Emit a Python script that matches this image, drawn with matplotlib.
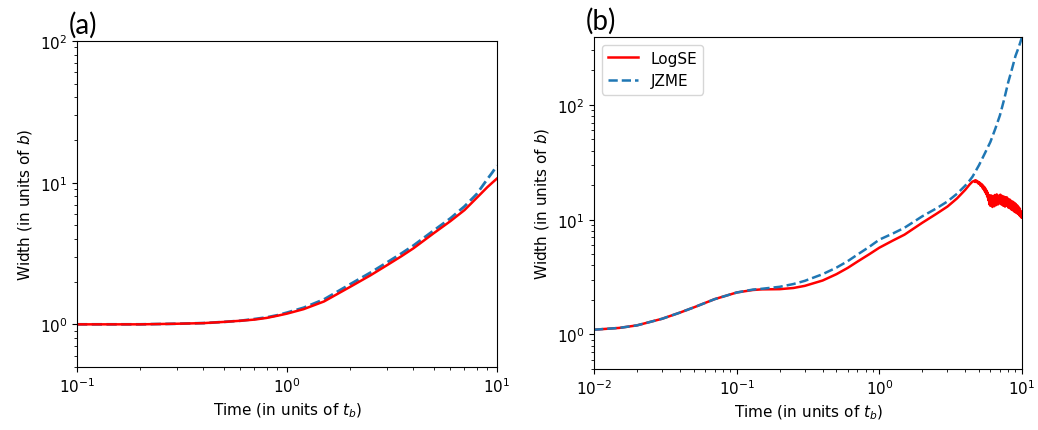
import matplotlib
matplotlib.use("Agg")
import matplotlib.pyplot as plt
import numpy as np

# panel (a): short-time comparison
t_a = [0.1, 0.2, 0.3, 0.4, 0.5, 0.6, 0.7, 0.8, 0.9, 1.0, 1.2, 1.5, 2.0, 2.5,
       3.0, 3.5, 4.0, 5.0, 6.0, 7.0, 8.0, 9.0, 9.5, 10.0]
logse_a = [1.00, 1.00, 1.01, 1.02, 1.04, 1.06, 1.08, 1.11, 1.15, 1.19, 1.28,
           1.45, 1.84, 2.22, 2.62, 3.02, 3.44, 4.4, 5.35, 6.4, 7.8, 9.3, 10.0, 10.7]
jzme_a = [1.00, 1.00, 1.01, 1.02, 1.04, 1.06, 1.09, 1.12, 1.16, 1.21, 1.31,
          1.50, 1.92, 2.32, 2.74, 3.16, 3.60, 4.6, 5.6, 6.8, 8.3, 10.6, 11.8, 13.2]

# panel (b): long-time comparison
t_b = [0.01, 0.015, 0.02, 0.03, 0.04, 0.05, 0.07, 0.1, 0.13, 0.15, 0.2, 0.25,
       0.3, 0.4, 0.5, 0.6, 0.7, 0.85, 1.0, 1.25, 1.5, 2.0, 2.5, 3.0, 3.5, 4.0,
       4.3, 4.5]
logse_b = [1.10, 1.14, 1.20, 1.37, 1.55, 1.72, 2.03, 2.32, 2.44, 2.47, 2.48,
           2.54, 2.65, 2.95, 3.35, 3.8, 4.3, 5.0, 5.7, 6.6, 7.4, 9.4, 11.2,
           13.0, 15.3, 18.2, 20.3, 21.5]
# noisy tail of LogSE after the peak (sampled every 0.05 from 4.6 to 10)
t_tail = np.linspace(4.6, 10.0, 109)
logse_tail = [21.6, 21.9, 21.3, 22.0, 21.4, 21.7, 20.8, 21.3, 20.5, 21.0,
              19.9, 20.6, 19.6, 20.2, 18.8, 19.7, 18.3, 19.2, 17.5, 18.6,
              16.8, 17.9, 15.9, 17.2, 14.8, 16.4, 13.6, 15.9, 13.2, 16.3,
              13.5, 15.4, 12.9, 16.1, 13.8, 15.7, 13.1, 16.4, 14.0, 15.9,
              13.4, 16.6, 14.2, 15.8, 13.6, 16.2, 14.4, 16.0, 13.9, 16.5,
              14.1, 15.6, 13.5, 16.1, 14.3, 15.5, 13.2, 15.9, 13.8, 15.3,
              13.0, 15.7, 13.6, 15.2, 13.3, 15.6, 13.9, 14.8, 12.8, 15.1,
              13.2, 14.6, 12.6, 14.9, 13.0, 14.2, 12.3, 14.5, 12.7, 13.9,
              12.1, 14.3, 12.4, 13.6, 11.8, 14.0, 12.2, 13.4, 11.6, 13.7,
              11.9, 13.1, 11.4, 13.3, 11.7, 12.8, 11.2, 12.9, 11.3, 12.4,
              10.9, 12.5, 11.0, 11.9, 10.6, 11.7, 10.5, 11.1, 10.4]
jzme_t = t_b + [5.0, 5.5, 6.0, 6.5, 7.0, 7.5, 8.0, 8.5, 9.0, 9.5, 10.0]
jzme_b = [1.10, 1.14, 1.20, 1.37, 1.55, 1.72, 2.03, 2.32, 2.46, 2.50, 2.60,
          2.75, 2.93, 3.35, 3.82, 4.35, 4.95, 5.8, 6.7, 7.6, 8.5, 10.7, 12.5,
          14.4, 16.8, 19.8, 22.0, 23.7,
          29.9, 38.0, 47.5, 62.0, 81.0, 112.0, 157.0, 205.0, 267.0, 320.0, 390.0]

label_fs = 11
fig = plt.figure(figsize=(10.38, 4.31), dpi=100)
ax1 = fig.add_axes([0.0742, 0.1462, 0.4046, 0.7564])
ax2 = fig.add_axes([0.5723, 0.1415, 0.4123, 0.7703])

ax1.plot(t_a, jzme_a, "--", color="C0", lw=2)
ax1.plot(t_a, logse_a, "-", color="red", lw=1.8)
ax1.set_xscale("log")
ax1.set_yscale("log")
ax1.set_xlim(0.1, 10)
ax1.set_ylim(0.5, 100)

ax2.plot(list(t_b) + list(t_tail), logse_b + logse_tail, "-", color="red",
         lw=1.8, label="LogSE")
ax2.plot(jzme_t, jzme_b, "--", color="C0", lw=1.8, label="JZME")
ax2.set_xscale("log")
ax2.set_yscale("log")
ax2.set_xlim(0.01, 10)
ax2.set_ylim(0.5, 390)
ax2.legend(loc="upper left", fontsize=label_fs)

for ax, tag in [(ax1, "(a)"), (ax2, "(b)")]:
    ax.set_xlabel("Time (in units of $t_b$)", fontsize=label_fs)
    ax.set_ylabel("Width (in units of $b$)", fontsize=label_fs)
    ax.tick_params(labelsize=label_fs)
    ax.text(-0.02, 1.01, tag, transform=ax.transAxes, fontsize=20,
            family="Lato", ha="left", va="bottom")

fig.savefig("out.png", dpi=100)
